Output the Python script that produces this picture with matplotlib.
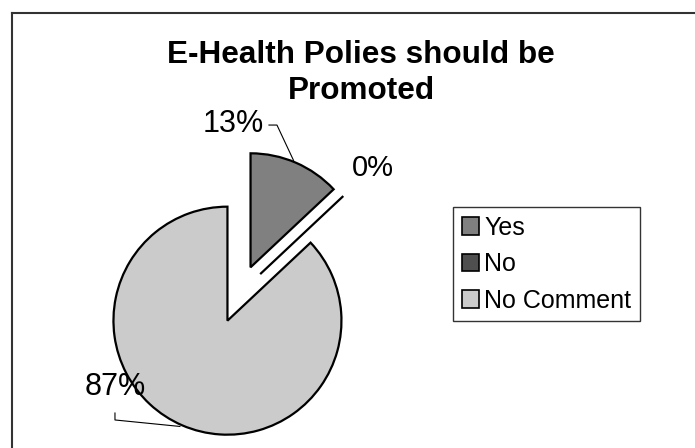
import matplotlib
matplotlib.use("Agg")
import matplotlib.pyplot as plt
from matplotlib.lines import Line2D
import numpy as np

plt.rcParams['font.family'] = ['Liberation Sans', 'DejaVu Sans']

categories = ["Yes", "No", "No Comment"]
percentages = [13, 0, 87]
colors = ["#808080", "#4f4f4f", "#cbcbcb"]
title = "E-Health Polies should be\nPromoted"

W, H = 695, 448
fig = plt.figure(figsize=(W / 100, H / 100), dpi=100)
fig.patch.set_facecolor("white")

# pie centre (in pixels) and radius in pixels; axes span the whole figure
cx, cy, rpx = 239, 294, 114
ax = fig.add_axes([0, 0, 1, 1])
explode = [0.255] * len(percentages)
wedges, _ = ax.pie(percentages, colors=colors, explode=explode, startangle=90,
                   counterclock=False, radius=1.0,
                   wedgeprops=dict(edgecolor="black", linewidth=1.6))
ax.set_xlim(-cx / rpx, (W - cx) / rpx)
ax.set_ylim(-(H - cy) / rpx, cy / rpx)
ax.set_aspect("equal", adjustable="box")
ax.axis("off")

# percentage labels
label_pos = [(-0.05, 1.487), (1.175, 1.105), (-1.088, -0.816)]
label_size = [22, 21, 22]
for v, (lx, ly), fs in zip(percentages, label_pos, label_size):
    ax.text(lx, ly, f"{v}%", ha="center", va="center", fontsize=fs, color="black")

# leader lines to the outer arc midpoints of the exploded wedges
def arc_mid(w, e):
    ang = np.deg2rad((w.theta1 + w.theta2) / 2)
    return (1 + e) * np.cos(ang), (1 + e) * np.sin(ang)

mx, my = arc_mid(wedges[0], explode[0])
ax.plot([0.263, 0.333, mx - 0.02], [1.482, 1.482, my + 0.02], color="black", lw=0.8)
mx, my = arc_mid(wedges[2], explode[2])
ax.plot([-1.088, -1.088, mx - 0.02], [-1.044, -1.105, my - 0.01], color="black", lw=0.8)

# title
fig.text(361 / W, 1 - 73 / H, title, ha="center", va="center", fontsize=22.7,
         fontweight="bold", linespacing=1.3)

# legend
leg = fig.legend(wedges, categories, loc="upper left",
                 bbox_to_anchor=(453 / W, 1 - 207 / H), borderaxespad=0,
                 fontsize=18, frameon=True, fancybox=False, edgecolor="black",
                 handlelength=0.68, handleheight=0.68, handletextpad=0.22,
                 labelspacing=0.5, borderpad=0.35)
leg.get_frame().set_linewidth(1.0)
for h in leg.legend_handles:
    h.set_linewidth(1.2)

# outer chart frame (top and left edges visible)
fig.add_artist(Line2D([12 / W, 12 / W], [0, 1 - 13 / H], transform=fig.transFigure,
                      color="#333333", lw=1.5))
fig.add_artist(Line2D([12 / W, 1], [1 - 13 / H, 1 - 13 / H], transform=fig.transFigure,
                      color="#333333", lw=1.5))

fig.savefig("out.png", dpi=100)
